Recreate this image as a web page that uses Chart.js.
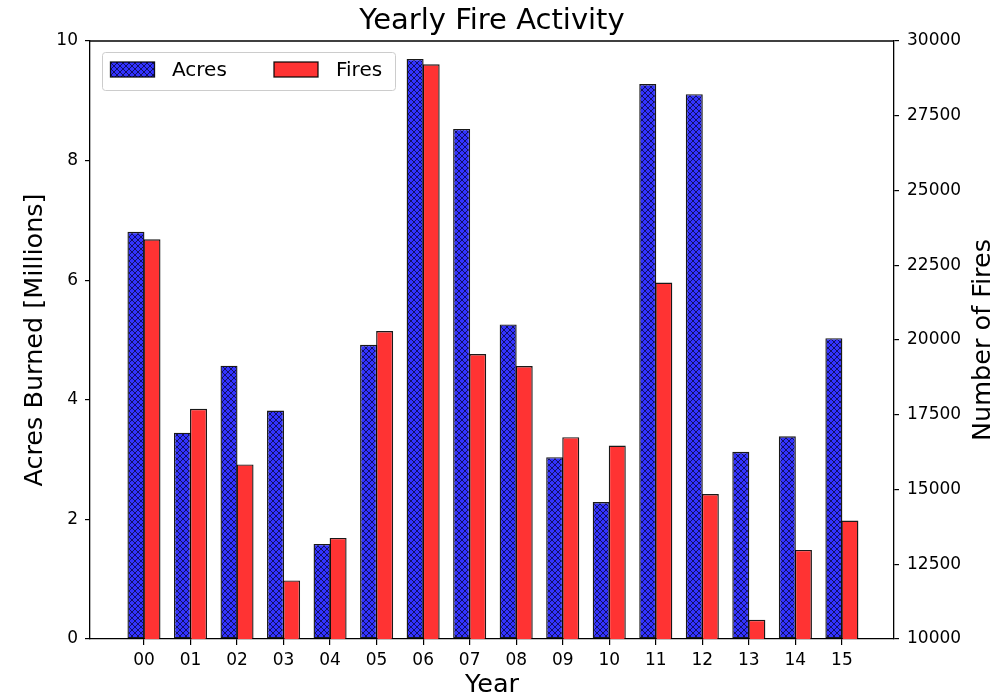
<!DOCTYPE html>
<html>
<head>
<meta charset="utf-8">
<title>Yearly Fire Activity</title>
<script src="https://cdn.jsdelivr.net/npm/chart.js@4/dist/chart.umd.min.js"></script>
<style>
  html, body { margin: 0; padding: 0; background: #fff; }
  #chart { display: block; }
</style>
</head>
<body>
<canvas id="chart" width="1004" height="698"></canvas>
<script>
const years = ['00', '01', '02', '03', '04', '05', '06', '07', '08', '09', '10', '11', '12', '13', '14', '15'];
const acres = [6.81, 3.45, 4.57, 3.82, 1.59, 4.92, 9.70, 8.53, 5.26, 3.04, 2.29, 9.28, 9.11, 3.13, 3.39, 5.03];
const fires = [23370, 17700, 15840, 11960, 13380, 20300, 29220, 19530, 19130, 16750, 16470, 21920, 14850, 10640, 12980, 13960];
const acresTicks = [0, 2, 4, 6, 8, 10];
const fireTicks = [10000, 12500, 15000, 17500, 20000, 22500, 25000, 27500, 30000];

const FONT = "'DejaVu Sans', 'Liberation Sans', sans-serif";
const BLUE = '#3333ff';
const RED = '#ff3333';
const EDGE = 'rgba(0,0,0,0.9)';

// cross hatch like matplotlib 'xxx'
const makeHatch = () => {
    const size = 6;
    const c = document.createElement('canvas');
    c.width = size;
    c.height = size;
    const g = c.getContext('2d');
    g.fillStyle = BLUE;
    g.fillRect(0, 0, size, size);
    g.strokeStyle = 'rgba(0,0,25,0.75)';
    g.lineWidth = 0.9;
    [-size, 0, size].forEach(k => {
        g.beginPath();
        g.moveTo(k, 0);
        g.lineTo(k + size, size);
        g.moveTo(k, size);
        g.lineTo(k + size, 0);
        g.stroke();
    });
    return g.createPattern(c, 'repeat');
};
const hatch = makeHatch();

// legend box, top spine and the right axis title (reads bottom to top)
const extras = {
    id: 'extras',
    afterDraw(chart) {
        const { ctx, chartArea: a } = chart;
        ctx.save();
        ctx.strokeStyle = '#000';
        ctx.lineWidth = 1.3;
        ctx.beginPath();
        ctx.moveTo(a.left, a.top);
        ctx.lineTo(a.right, a.top);
        ctx.stroke();

        ctx.save();
        ctx.translate(983, (a.top + a.bottom) / 2);
        ctx.rotate(-Math.PI / 2);
        ctx.font = '25.5px ' + FONT;
        ctx.fillStyle = '#000';
        ctx.textAlign = 'center';
        ctx.textBaseline = 'middle';
        ctx.fillText('Number of Fires', 0, 0);
        ctx.restore();

        const x = 102, y = 52, w = 293, h = 38;
        ctx.fillStyle = 'rgba(255,255,255,0.8)';
        ctx.strokeStyle = '#cccccc';
        ctx.lineWidth = 1;
        ctx.beginPath();
        ctx.roundRect(x + 0.5, y + 0.5, w, h, 3);
        ctx.fill();
        ctx.stroke();

        const items = [
            { fill: hatch, text: 'Acres', sx: 110.5, tx: 172 },
            { fill: RED, text: 'Fires', sx: 274, tx: 336 }
        ];
        ctx.font = '20px ' + FONT;
        ctx.textBaseline = 'middle';
        ctx.textAlign = 'left';
        items.forEach(it => {
            ctx.fillStyle = it.fill;
            ctx.fillRect(it.sx, 62, 44, 15);
            ctx.strokeStyle = EDGE;
            ctx.lineWidth = 1.3;
            ctx.strokeRect(it.sx, 62, 44, 15);
            ctx.fillStyle = '#000';
            ctx.fillText(it.text, it.tx, 71);
        });
        ctx.restore();
    }
};

new Chart(document.getElementById('chart'), {
    type: 'bar',
    data: {
        datasets: [{
            label: 'Acres',
            data: acres.map((v, i) => ({ x: i, y: v })),
            yAxisID: 'y',
            backgroundColor: hatch,
            borderColor: EDGE,
            borderWidth: 1.4,
            borderSkipped: false
        }, {
            label: 'Fires',
            data: fires.map((v, i) => ({ x: i, y: v })),
            yAxisID: 'y2',
            backgroundColor: RED,
            borderColor: EDGE,
            borderWidth: 1.4,
            borderSkipped: false
        }]
    },
    options: {
        responsive: false,
        animation: false,
        categoryPercentage: 0.69,
        barPercentage: 1.06,
        layout: { padding: 0 },
        plugins: {
            legend: { display: false },
            tooltip: { enabled: false },
            title: {
                display: true,
                text: 'Yearly Fire Activity',
                fullSize: false,
                color: '#000',
                font: { family: FONT, size: 29, weight: 'normal', lineHeight: 1.2 },
                padding: { top: 4, bottom: 2.2 }
            }
        },
        scales: {
            x: {
                type: 'linear',
                offset: false,
                min: -1.16,
                max: 16.12,
                afterBuildTicks: s => { s.ticks = years.map((_, i) => ({ value: i })); },
                afterFit: s => { s.height = 59; },
                ticks: {
                    callback: v => years[v],
                    color: '#000',
                    padding: 5,
                    maxRotation: 0,
                    font: { family: FONT, size: 17 }
                },
                grid: { offset: false, drawOnChartArea: false, drawTicks: true, tickLength: 6, color: '#000', lineWidth: 1.2 },
                border: { display: true, color: '#000', width: 1.3 },
                title: {
                    display: true,
                    text: 'Year',
                    color: '#000',
                    font: { family: FONT, size: 25.5, lineHeight: 1 },
                    padding: 0
                }
            },
            y: {
                position: 'left',
                min: 0,
                max: 10,
                afterBuildTicks: s => { s.ticks = acresTicks.map(v => ({ value: v })); },
                afterFit: s => { s.width = 90; },
                ticks: {
                    color: '#000',
                    padding: 7,
                    font: { family: FONT, size: 17 }
                },
                grid: { drawOnChartArea: false, drawTicks: true, tickLength: 5, color: '#000', lineWidth: 1.2 },
                border: { display: true, color: '#000', width: 1.3 },
                title: {
                    display: true,
                    text: 'Acres Burned [Millions]',
                    color: '#000',
                    font: { family: FONT, size: 25.5, lineHeight: 1.2 },
                    padding: { top: 20.5 }
                }
            },
            y2: {
                position: 'right',
                min: 10000,
                max: 30000,
                afterBuildTicks: s => { s.ticks = fireTicks.map(v => ({ value: v })); },
                afterFit: s => { s.width = 110; },
                ticks: {
                    callback: v => String(v),
                    color: '#000',
                    padding: 8,
                    font: { family: FONT, size: 17 }
                },
                grid: { drawOnChartArea: false, drawTicks: true, tickLength: 5, color: '#000', lineWidth: 1.2 },
                border: { display: true, color: '#000', width: 1.3 },
                title: { display: false }
            }
        }
    },
    plugins: [extras]
});
</script>
</body>
</html>
